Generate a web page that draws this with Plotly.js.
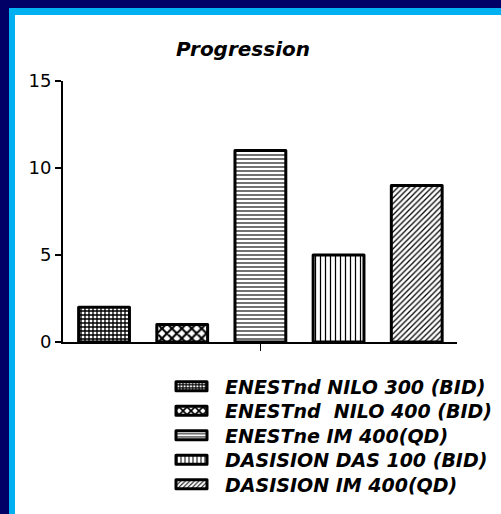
<!DOCTYPE html>
<html>
<head>
<meta charset="utf-8">
<script src="https://cdn.plot.ly/plotly-3.0.1.min.js"></script>
<style>
  html, body { margin: 0; padding: 0; background: #ffffff; }
  #wrap { position: relative; width: 501px; height: 514px; overflow: hidden; }
  #chart { position: absolute; left: 0; top: 0; width: 501px; height: 514px; }
  /* slide frame: navy outer band with a cyan inner rule, top and left only */
  .band { position: absolute; pointer-events: none; }
  #navyTop  { left: 0; top: 0; width: 501px; height: 8px;  background: #000066; }
  #navyLeft { left: 0; top: 0; width: 9px;   height: 514px; background: #000066; }
  #cyanTop  { left: 9px; top: 8px; width: 492px; height: 7px; background: #00B0F0; }
  #cyanLeft { left: 9px; top: 8px; width: 6px; height: 506px; background: #00B0F0; }
  .bars path { stroke-linejoin: round; }
</style>
</head>
<body>
<div id="wrap">
  <div id="chart"></div>
  <div class="band" id="navyTop"></div>
  <div class="band" id="navyLeft"></div>
  <div class="band" id="cyanTop"></div>
  <div class="band" id="cyanLeft"></div>
</div>
<script>
// Study arms and number of patients with progression
const arms = [
  'ENESTnd NILO 300 (BID)',
  'ENESTnd\u00a0 NILO 400 (BID)',
  'ENESTne IM 400(QD)',
  'DASISION DAS 100 (BID)',
  'DASISION IM 400(QD)'
];
const progression = [2, 1, 11, 5, 9];
const yTicks = [0, 5, 10, 15];

// fill hatching for each arm
const hatch = [
  { shape: '+', size: 4,  solidity: 0.55 },
  { shape: 'x', size: 7,  solidity: 0.5 },
  { shape: '-', size: 4,  solidity: 0.28 },
  { shape: '|', size: 5,  solidity: 0.25 },
  { shape: '/', size: 4,  solidity: 0.32 }
];

const W = 501, H = 514;
const M = { l: 63, r: 44, t: 81, b: 172, autoexpand: false };
const plotW = W - M.l - M.r;
const plotH = H - M.t - M.b;

// legend rows (pixel centres on the page, converted to paper units)
const legendRowPx = [386.5, 411, 435.5, 460, 484.5];
const legendLeftPx = 157;
const legendFont = { family: 'DejaVu Sans, sans-serif', size: 19, weight: 'bold', style: 'italic', color: '#000000' };

const traces = arms.map((name, i) => ({
  type: 'bar',
  name: name,
  x: [i],
  y: [progression[i]],
  width: [0.65],
  marker: {
    color: '#ffffff',
    line: { color: '#000000', width: 3 },
    pattern: Object.assign({ fgcolor: '#000000', bgcolor: '#ffffff', fillmode: 'replace' }, hatch[i])
  },
  legend: i === 0 ? 'legend' : 'legend' + (i + 1),
  hoverinfo: 'skip'
}));

const layout = {
  width: W,
  height: H,
  margin: M,
  paper_bgcolor: '#ffffff',
  plot_bgcolor: '#ffffff',
  barmode: 'overlay',
  showlegend: true,
  title: {
    text: 'Progression',
    x: 243 / W, xref: 'container', xanchor: 'center',
    y: 1 - 49 / H, yref: 'container', yanchor: 'middle',
    font: { family: 'DejaVu Sans, sans-serif', size: 20, weight: 'bold', style: 'italic', color: '#000000' }
  },
  xaxis: {
    range: [-0.525, 4.515],
    showgrid: false, zeroline: false,
    showline: true, linecolor: '#000000', linewidth: 2,
    tickmode: 'array', tickvals: [2], ticktext: [''],
    ticks: 'outside', ticklen: 7, tickwidth: 1.5, tickcolor: '#000000',
    fixedrange: true
  },
  yaxis: {
    range: [0, 15],
    showgrid: false, zeroline: false,
    showline: true, linecolor: '#000000', linewidth: 2,
    tickmode: 'array', tickvals: yTicks, ticktext: yTicks.map(String),
    ticks: 'outside', ticklen: 6, tickwidth: 2, tickcolor: '#000000',
    tickfont: { family: 'DejaVu Sans, sans-serif', size: 18, color: '#000000' },
    fixedrange: true
  }
};

legendRowPx.forEach((py, i) => {
  const key = i === 0 ? 'legend' : 'legend' + (i + 1);
  layout[key] = {
    x: (legendLeftPx - M.l) / plotW,
    xanchor: 'left',
    y: (H - M.b - py) / plotH,
    yanchor: 'middle',
    bgcolor: 'rgba(0,0,0,0)',
    borderwidth: 0,
    itemwidth: 58,
    font: legendFont
  };
});

Plotly.newPlot('chart', traces, layout, { displayModeBar: false, staticPlot: true }).then(gd => {
  // widen the legend swatches into bar-like rounded rectangles
  gd.querySelectorAll('.legendpoints path').forEach(p => {
    p.setAttribute('d', 'M16,4.5H-15V-4.5H16Z');
    p.style.strokeWidth = '3px';
    p.style.stroke = '#000000';
    p.style.strokeLinejoin = 'round';
  });
});
</script>
</body>
</html>
